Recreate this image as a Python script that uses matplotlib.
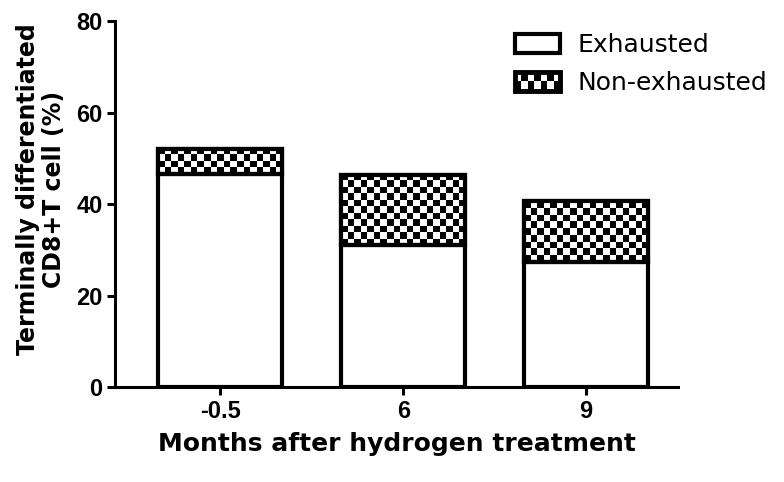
import numpy as np
import matplotlib.pyplot as plt
from matplotlib.patches import Rectangle
from matplotlib.legend_handler import HandlerBase

plt.rcParams['font.family'] = ['Liberation Sans', 'DejaVu Sans']

# data
months = ['-0.5', '6', '9']
exhausted = [46.5, 31.0, 27.3]
non_exhausted = [5.5, 15.4, 13.3]
yticks = [0, 20, 40, 60, 80]

CELL = 6.6  # checker cell size in pixels


def checker(ax, patch):
    # black/white checkerboard clipped to the bar
    bb = patch.get_bbox()
    p0 = ax.transData.transform((bb.x0, bb.y0))
    p1 = ax.transData.transform((bb.x1, bb.y1))
    nx = max(1, int(round(abs(p1[0] - p0[0]) / CELL)))
    ny = max(1, int(round(abs(p1[1] - p0[1]) / CELL)))
    arr = np.add.outer(np.arange(ny), np.arange(nx)) % 2
    im = ax.imshow(arr, cmap='gray', extent=[bb.x0, bb.x1, bb.y0, bb.y1],
                   aspect='auto', interpolation='nearest', zorder=2)
    im.set_clip_path(patch)


class CheckerHandler(HandlerBase):
    def create_artists(self, legend, orig_handle, xdescent, ydescent,
                       width, height, fontsize, trans):
        arts = [Rectangle((-xdescent, -ydescent), width, height,
                          facecolor='white', edgecolor='none', transform=trans)]
        n = 7
        cw = width / n
        for i in range(n):
            arts.append(Rectangle((-xdescent + i * cw, -ydescent + (height / 2 if i % 2 else 0)),
                                  cw, height / 2, facecolor='black', edgecolor='none',
                                  transform=trans))
        arts.append(Rectangle((-xdescent, -ydescent), width, height, facecolor='none',
                              edgecolor='black', lw=3.5, transform=trans))
        return arts


fig = plt.figure(figsize=(7.84, 4.82), dpi=100)
ax = fig.add_axes([0.147, 0.197, 0.718, 0.759])

x = np.arange(len(months))
b1 = ax.bar(x, exhausted, 0.68, color='white', edgecolor='black', linewidth=3,
            zorder=3)
b2 = ax.bar(x, non_exhausted, 0.68, bottom=exhausted, color='white',
            edgecolor='black', linewidth=3, zorder=1)

ax.set_xlim(-0.574, 2.503)
ax.set_ylim(0, 80)
ax.set_yticks(yticks)
ax.set_xticks(x)
ax.set_xticklabels(months)

fig.canvas.draw()
for p in b2.patches:
    checker(ax, p)
    ax.add_patch(Rectangle(p.get_xy(), p.get_width(), p.get_height(), facecolor='none',
                           edgecolor='black', linewidth=3, zorder=3))

for s in ['top', 'right']:
    ax.spines[s].set_visible(False)
for s in ['left', 'bottom']:
    ax.spines[s].set_linewidth(2.2)
ax.tick_params(width=2.2, length=6, labelsize=17, pad=3)
for t in ax.get_xticklabels() + ax.get_yticklabels():
    t.set_fontweight('bold')

ax.set_xlabel('Months after hydrogen treatment', fontsize=18, fontweight='bold',
              family='DejaVu Sans', labelpad=7)
ax.set_ylabel('Terminally differentiated\nCD8+T cell (%)', fontsize=17,
              fontweight='bold', family='DejaVu Sans', linespacing=1.1)
ax.yaxis.set_label_coords(-0.088, 0.54)

proxy = Rectangle((0, 0), 1, 1)
ax.legend([b1.patches[0], proxy], ['Exhausted', 'Non-exhausted'],
          handler_map={proxy: CheckerHandler()},
          loc='upper left', bbox_to_anchor=(515 / 784, 1 - 33 / 482),
          bbox_transform=fig.transFigure, frameon=False,
          prop={'family': 'DejaVu Sans', 'size': 18}, borderpad=0, borderaxespad=0,
          handlelength=1.8, handleheight=0.8, handletextpad=0.7, labelspacing=0.55)

fig.savefig('out.png', dpi=100)
